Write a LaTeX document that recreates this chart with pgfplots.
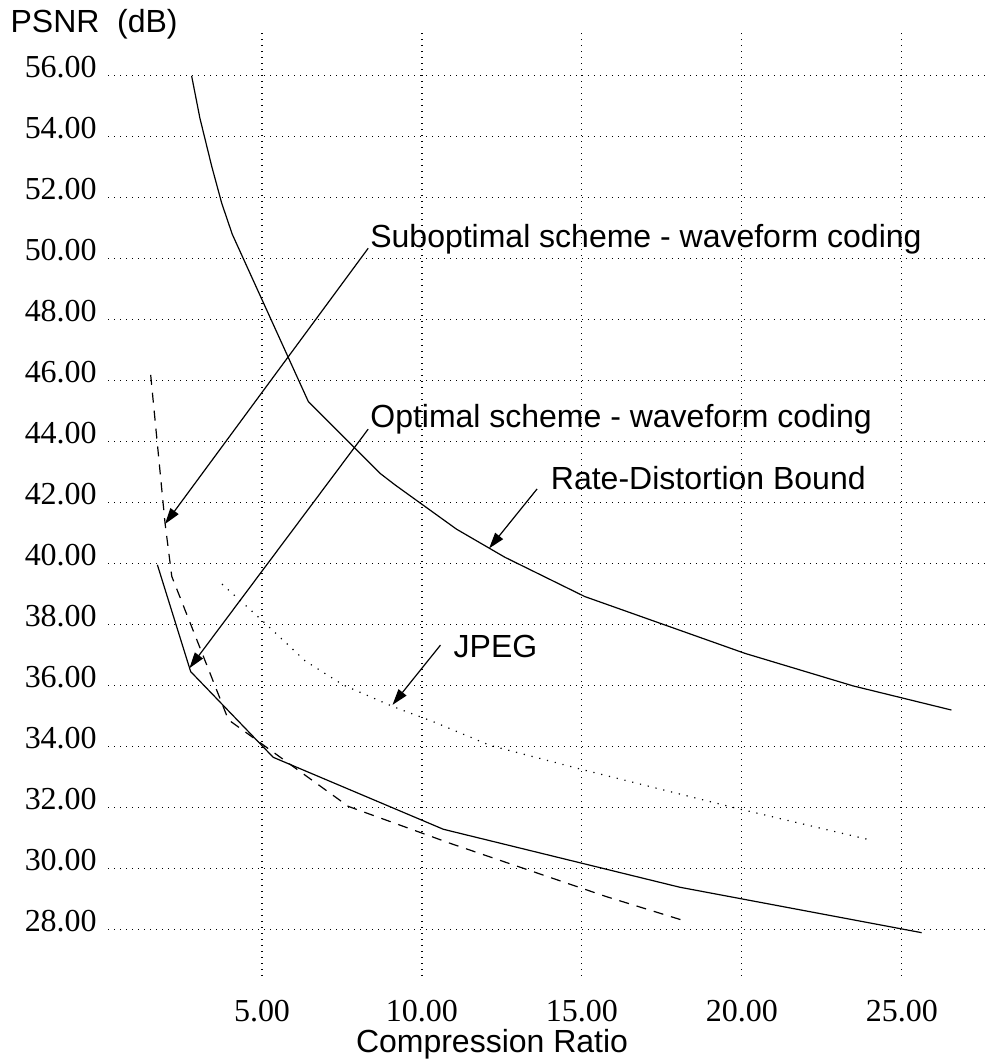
\documentclass[border=0pt]{standalone}
\usepackage{fontspec}
\setmainfont{Liberation Serif}
\setsansfont{Liberation Sans}
\usepackage{pgfplots}
\pgfplotsset{compat=1.18}
\usetikzlibrary{arrows.meta}

\newcommand{\lbl}{\sffamily\fontsize{16}{19}\selectfont}

\begin{document}
\begin{tikzpicture}
\begin{axis}[
  scale only axis,
  width=440.5pt, height=472pt,
  xmin=0.19, xmax=27.72, ymin=26.5, ymax=57.44,
  xtick={5,10,15,20,25},
  ytick={28,30,32,34,36,38,40,42,44,46,48,50,52,54,56},
  axis line style={draw=none},
  major tick length=0pt,
  grid=major,
  major grid style={black, line width=0.55pt, dash pattern=on 0.55pt off 2.45pt},
  clip=false,
  /pgf/number format/fixed,
  /pgf/number format/fixed zerofill,
  /pgf/number format/precision=2,
  /pgf/number format/assume math mode=true,
  tick label style={font=\fontsize{16}{19}\selectfont},
  yticklabel style={anchor=base east, inner sep=0pt, xshift=-5.5pt, yshift=-1pt},
  xticklabel style={anchor=base, inner sep=0pt, yshift=-23pt},
  xlabel={Compression Ratio},
  xlabel style={font=\lbl, at={(axis description cs:0.4359,-0.0816)}, anchor=base, inner sep=0pt},
  ylabel={PSNR\ \ (dB)},
  ylabel style={font=\lbl, rotate=-90, at={(axis description cs:-0.1112,1)}, anchor=base west, inner sep=0pt},
]

% Rate-Distortion Bound
\addplot[black, line width=0.6pt] coordinates {
  (2.80,56.00) (3.06,54.61) (3.43,53.03) (3.74,51.83) (4.07,50.81)
  (6.45,45.32) (8.69,42.97) (9.16,42.59) (11.08,41.14)
  (12.59,40.22) (15.09,38.93) (20.09,37.07) (23.48,36.00) (26.55,35.21)
};

% Optimal scheme - waveform coding
\addplot[black, line width=0.6pt] coordinates {
  (1.73,39.97) (2.77,36.47) (5.35,33.66) (10.67,31.30) (18.06,29.40) (25.62,27.91)
};

% Suboptimal scheme - waveform coding
\addplot[black, line width=0.6pt, dash pattern=on 5pt off 4pt] coordinates {
  (1.52,46.20) (1.97,41.33) (2.18,39.59) (3.95,34.89) (7.70,32.05)
  (10.88,30.84) (15.77,29.09) (18.17,28.31)
};

% JPEG
\addplot[black, line width=0.6pt, dash pattern=on 0.6pt off 3.4pt] coordinates {
  (3.75,39.34) (4.99,38.16) (6.35,36.82) (7.54,36.03) (9.10,35.32)
  (10.35,34.83) (12.13,34.05) (15.04,33.25) (19.83,31.99) (23.97,30.96)
};

% annotations
\draw[black, line width=0.6pt, -{Triangle[length=8pt,width=5pt]}] (axis cs:8.32,50.35) -- (axis cs:1.97,41.31);
\node[anchor=base west, inner sep=0pt, font=\lbl] at (axis cs:8.375,50.36) {Suboptimal scheme - waveform coding};

\draw[black, line width=0.6pt, -{Triangle[length=8pt,width=5pt]}] (axis cs:8.32,44.42) -- (axis cs:2.73,36.58);
\node[anchor=base west, inner sep=0pt, font=\lbl] at (axis cs:8.375,44.46) {Optimal scheme - waveform coding};

\draw[black, line width=0.6pt, -{Triangle[length=8pt,width=5pt]}] (axis cs:13.60,42.46) -- (axis cs:12.10,40.51);
\node[anchor=base west, inner sep=0pt, font=\lbl] at (axis cs:14.02,42.45) {Rate-Distortion Bound};

\draw[black, line width=0.6pt, -{Triangle[length=8pt,width=5pt]}] (axis cs:10.58,37.34) -- (axis cs:9.08,35.38);
\node[anchor=base west, inner sep=0pt, font=\lbl] at (axis cs:10.98,36.94) {JPEG};

\coordinate (bl) at (axis cs:-3.19,23.67);
\coordinate (tr) at (axis cs:27.72,58.49);
\end{axis}
\pgfresetboundingbox
\path[use as bounding box] (bl) rectangle (tr);
\end{tikzpicture}
\end{document}
